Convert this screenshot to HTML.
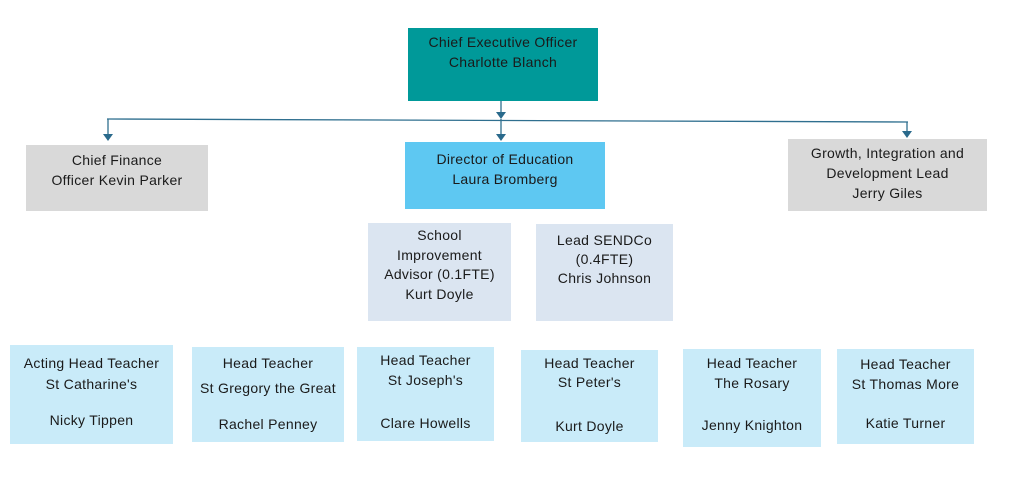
<!DOCTYPE html>
<html><head><meta charset="utf-8"><style>
body{margin:0;width:1024px;height:482px;background:#fff;position:relative;overflow:hidden;font-family:"Liberation Sans",sans-serif;color:#1a1a1a}
.b{position:absolute}
.t{position:absolute;left:0;right:0;text-align:center;font-size:14px;line-height:16px;white-space:nowrap;letter-spacing:0.3px}
</style></head><body>
<svg class="b" style="left:0;top:0" width="1024" height="482">
<g stroke="#2f6f8f" stroke-width="1.3" fill="none">
<line x1="501" y1="101" x2="501" y2="113"/>
<line x1="107" y1="119" x2="908" y2="122"/>
<line x1="108" y1="119" x2="108" y2="135"/>
<line x1="501" y1="119" x2="501" y2="135"/>
<line x1="907" y1="122" x2="907" y2="132"/>
</g>
<g fill="#2a6a8c">
<polygon points="496,112 506,112 501,119"/>
<polygon points="103,134 113,134 108,141"/>
<polygon points="496,134 506,134 501,141"/>
<polygon points="902,131 912,131 907,138"/>
</g>
</svg>

<div class="b" style="left:408px;top:28px;width:190px;height:73px;background:#009999"><div class="t" style="top:6px">Chief Executive Officer</div><div class="t" style="top:26px">Charlotte Blanch</div></div>

<div class="b" style="left:26px;top:145px;width:182px;height:66px;background:#d9d9d9"><div class="t" style="top:7px">Chief Finance</div><div class="t" style="top:27px">Officer Kevin Parker</div></div>
<div class="b" style="left:405px;top:142px;width:200px;height:67px;background:#5ec8f2"><div class="t" style="top:9px">Director of Education</div><div class="t" style="top:29px">Laura Bromberg</div></div>
<div class="b" style="left:788px;top:139px;width:199px;height:72px;background:#d9d9d9"><div class="t" style="top:6px">Growth, Integration and</div><div class="t" style="top:26px">Development Lead</div><div class="t" style="top:46px">Jerry Giles</div></div>

<div class="b" style="left:368px;top:223px;width:143px;height:98px;background:#dbe5f1"><div class="t" style="top:4px">School</div><div class="t" style="top:24px">Improvement</div><div class="t" style="top:43px">Advisor (0.1FTE)</div><div class="t" style="top:63px">Kurt Doyle</div></div>
<div class="b" style="left:536px;top:224px;width:137px;height:97px;background:#dbe5f1"><div class="t" style="top:8px">Lead SENDCo</div><div class="t" style="top:27px">(0.4FTE)</div><div class="t" style="top:46px">Chris Johnson</div></div>

<div class="b" style="left:10px;top:345px;width:163px;height:99px;background:#c9ebf9"><div class="t" style="top:10px">Acting Head Teacher</div><div class="t" style="top:31px">St Catharine's</div><div class="t" style="top:67px">Nicky Tippen</div></div>
<div class="b" style="left:192px;top:347px;width:152px;height:95px;background:#c9ebf9"><div class="t" style="top:8px">Head Teacher</div><div class="t" style="top:33px">St Gregory the Great</div><div class="t" style="top:69px">Rachel Penney</div></div>
<div class="b" style="left:357px;top:347px;width:137px;height:94px;background:#c9ebf9"><div class="t" style="top:5px">Head Teacher</div><div class="t" style="top:25px">St Joseph's</div><div class="t" style="top:68px">Clare Howells</div></div>
<div class="b" style="left:521px;top:350px;width:137px;height:92px;background:#c9ebf9"><div class="t" style="top:5px">Head Teacher</div><div class="t" style="top:24px">St Peter's</div><div class="t" style="top:68px">Kurt Doyle</div></div>
<div class="b" style="left:683px;top:349px;width:138px;height:98px;background:#c9ebf9"><div class="t" style="top:6px">Head Teacher</div><div class="t" style="top:26px">The Rosary</div><div class="t" style="top:68px">Jenny Knighton</div></div>
<div class="b" style="left:837px;top:349px;width:137px;height:95px;background:#c9ebf9"><div class="t" style="top:7px">Head Teacher</div><div class="t" style="top:27px">St Thomas More</div><div class="t" style="top:66px">Katie Turner</div></div>
</body></html>
